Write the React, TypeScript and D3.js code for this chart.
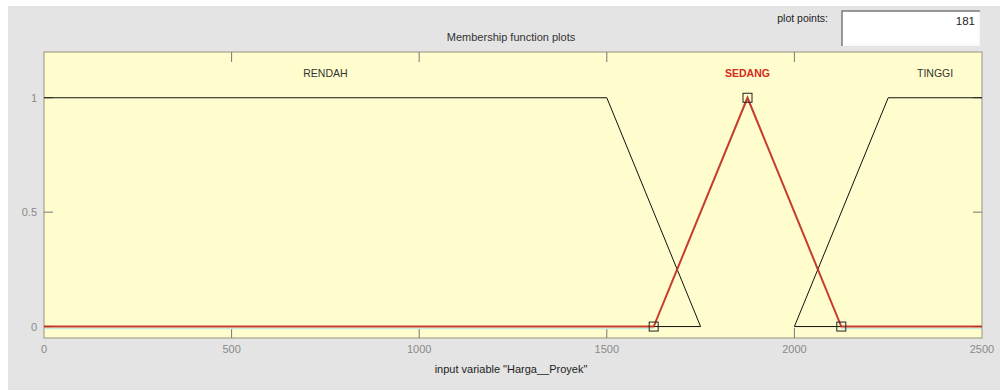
import React from "react";
import * as d3 from "d3";

const xTicks = [0, 500, 1000, 1500, 2000, 2500];
const yTicks = [0, 0.5, 1];
const mfNames = ["RENDAH", "SEDANG", "TINGGI"];
const mfLabelX = [750, 1875, 2375];
const rendahX = [0, 1500, 1750, 1625];
const rendahY = [1, 1, 0, 0];
const sedangX = [0, 1625, 1875, 2125, 2500];
const sedangY = [0, 0, 1, 0, 0];
const sedangParams = [1625, 1875, 2125];
const sedangParamY = [0, 1, 0];
const tinggiX = [2125, 2000, 2250, 2500];
const tinggiY = [0, 0, 1, 1];
const sedangZeroStart = [0, 2125];
const sedangZeroEnd = [1625, 2500];
const plotPoints = "181";

const W = 1000, H = 390;
const L = 44, R = 982, T = 52, B = 338;
const FONT = "'Liberation Sans', Arial, sans-serif";

export default function App() {
  const x = d3.scaleLinear().domain([0, 2500]).range([L, R]);
  const y = d3.scaleLinear().domain([-0.05, 1.2]).range([B, T]);
  const line = d3.line<[number, number]>().x(d => x(d[0])).y(d => y(d[1]));
  const zip = (a: number[], b: number[]) => a.map((v, i) => [v, b[i]] as [number, number]);

  return (
    <svg width={W} height={H} style={{ position: "absolute", left: 0, top: 0 }} fontFamily={FONT}>
      <rect x={0} y={0} width={W} height={H} fill="#ffffff" />
      <rect x={8} y={6} width={W - 8} height={H - 6} fill="#e4e4e4" />
      {/* plot points box */}
      <text x={828} y={22} fontSize={10.5} textAnchor="end" fill="#222">plot points:</text>
      <rect x={842} y={11} width={138} height={35} fill="#ffffff" />
      <path d="M842,46 L842,11 L980,11" fill="none" stroke="#7a7a7a" strokeWidth={1.5} />
      <path d="M843,45 L979,45 L979,12" fill="none" stroke="#f4f4f4" strokeWidth={1} />
      <text x={975} y={25} fontSize={11.5} textAnchor="end" fill="#222">{plotPoints}</text>
      {/* title */}
      <text x={511} y={41} fontSize={11} textAnchor="middle" fill="#333">Membership function plots</text>
      {/* plot area */}
      <rect x={L} y={T} width={R - L} height={B - T} fill="#fffdcd" stroke="#a7a28e" strokeWidth={1.2} />
      {/* ticks */}
      {xTicks.map((t, i) => (
        <g key={"xt" + i}>
          {i > 0 && i < xTicks.length - 1 && (
            <>
              <line x1={x(t)} x2={x(t)} y1={B} y2={B - 10} stroke="#777" strokeWidth={1} />
              <line x1={x(t)} x2={x(t)} y1={T} y2={T + 10} stroke="#777" strokeWidth={1} />
            </>
          )}
          <text x={x(t)} y={353} fontSize={11} textAnchor="middle" fill="#8a8a8a">{t}</text>
        </g>
      ))}
      {yTicks.map((t, i) => (
        <g key={"yt" + i}>
          <line x1={L} x2={L + 9} y1={y(t)} y2={y(t)} stroke="#777" strokeWidth={1} />
          <line x1={R} x2={R - 9} y1={y(t)} y2={y(t)} stroke="#777" strokeWidth={1} />
          <text x={37} y={y(t) + 4} fontSize={11} textAnchor="end" fill="#8a8a8a">{t}</text>
        </g>
      ))}
      {/* cyan baseline under the zero parts of the selected MF */}
      {sedangZeroStart.map((s, i) => (
        <line key={"cy" + i} x1={Math.max(x(s), L + 1)} x2={Math.min(x(sedangZeroEnd[i]), R - 1)}
          y1={y(0) + 2} y2={y(0) + 2} stroke="#c4efe0" strokeWidth={1.5} />
      ))}
      {/* MFs */}
      <path d={line(zip(tinggiX, tinggiY)) || ""} fill="none" stroke="#111" strokeWidth={1} />
      <path d={line(zip(rendahX, rendahY)) || ""} fill="none" stroke="#111" strokeWidth={1} />
      <path d={line(zip(sedangX, sedangY)) || ""} fill="none" stroke="#c0281e" strokeWidth={2} strokeOpacity={0.9} />
      {sedangParams.map((p, i) => (
        <rect key={"sq" + i} x={x(p) - 4.5} y={y(sedangParamY[i]) - 4.5} width={9} height={9} fill="none" stroke="#222" strokeWidth={1} />
      ))}
      {/* labels */}
      {mfNames.map((n, i) => (
        <text key={n} x={x(mfLabelX[i])} y={77} fontSize={10.5} textAnchor="middle"
          fill={i === 1 ? "#d42a20" : "#333"} fontWeight={i === 1 ? "bold" : "normal"}>{n}</text>
      ))}
      {/* x label */}
      <text x={511} y={373} fontSize={11} textAnchor="middle" fill="#222">input variable "Harga__Proyek"</text>
    </svg>
  );
}
